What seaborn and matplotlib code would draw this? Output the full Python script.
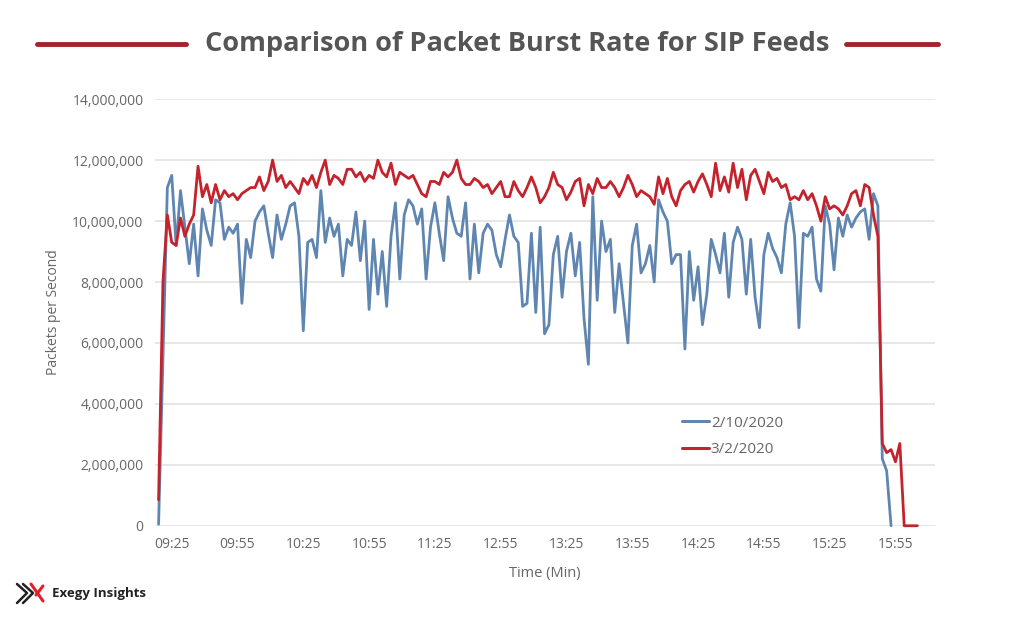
import numpy as np
import pandas as pd
import matplotlib
matplotlib.use("Agg")
import matplotlib.pyplot as plt
from matplotlib.lines import Line2D
from matplotlib.ticker import FuncFormatter
import seaborn as sns


# packets per second, in millions, one sample every 2 minutes
FEB_10 = [
    0.05, 5.5, 11.1, 11.5, 9.2, 11.0, 9.8, 8.6, 9.9, 8.2,
    10.4, 9.7, 9.2, 10.7, 10.6, 9.4, 9.8, 9.6, 9.9, 7.3,
    9.4, 8.8, 10.0, 10.3, 10.5, 9.6, 8.8, 10.2, 9.4, 9.9,
    10.5, 10.6, 9.5, 6.4, 9.3, 9.4, 8.8, 11.0, 9.3, 10.1,
    9.5, 9.9, 8.2, 9.4, 9.2, 10.3, 8.7, 10.0, 7.1, 9.4,
    7.6, 9.0, 7.2, 9.5, 10.6, 8.1, 10.2, 10.7, 10.5, 9.9,
    10.4, 8.1, 9.8, 10.6, 9.6, 8.7, 10.8, 10.1, 9.6, 9.5,
    10.6, 8.1, 9.9, 8.3, 9.6, 9.9, 9.7, 8.9, 8.5, 9.4,
    10.2, 9.5, 9.3, 7.2, 7.3, 9.6, 7.0, 9.8, 6.3, 6.6,
    8.9, 9.5, 7.5, 9.0, 9.6, 8.2, 9.3, 6.8, 5.3, 10.8,
    7.4, 10.0, 9.0, 9.4, 7.0, 8.6, 7.3, 6.0, 9.2, 9.9,
    8.3, 8.6, 9.2, 8.0, 10.7, 10.3, 10.0, 8.6, 8.9, 8.9,
    5.8, 9.0, 7.4, 8.5, 6.6, 7.6, 9.4, 8.9, 8.3, 9.6,
    7.5, 9.3, 9.8, 9.4, 7.6, 9.4, 7.5, 6.5, 8.9, 9.6,
    9.1, 8.8, 8.3, 9.9, 10.6, 9.5, 6.5, 9.6, 9.5, 9.8,
    8.1, 7.7, 10.5, 9.9, 8.4, 10.1, 9.5, 10.2, 9.8, 10.1,
    10.3, 10.4, 9.4, 10.9, 10.5, 2.2, 1.8, 0.0,
]

MAR_2 = [
    0.85, 8.0, 10.2, 9.3, 9.2, 10.1, 9.5, 9.9, 10.2, 11.8,
    10.8, 11.2, 10.6, 11.2, 10.7, 11.0, 10.8, 10.9, 10.7, 10.9,
    11.0, 11.1, 11.1, 11.45, 11.0, 11.3, 12.0, 11.3, 11.5, 11.1,
    11.3, 11.1, 10.9, 11.4, 11.2, 11.5, 11.1, 11.6, 12.0, 11.2,
    11.5, 11.4, 11.2, 11.7, 11.7, 11.45, 11.6, 11.3, 11.5, 11.4,
    12.0, 11.6, 11.45, 11.9, 11.2, 11.6, 11.5, 11.4, 11.5, 11.2,
    10.9, 10.8, 11.3, 11.3, 11.2, 11.6, 11.45, 11.6, 12.0, 11.4,
    11.2, 11.2, 11.4, 11.3, 11.1, 11.2, 10.9, 11.1, 11.3, 10.8,
    10.8, 11.3, 11.0, 10.8, 11.1, 11.45, 11.1, 10.6, 10.8, 11.1,
    11.6, 11.2, 11.1, 10.7, 10.95, 11.3, 11.4, 10.5, 11.2, 10.9,
    11.4, 11.1, 11.1, 11.3, 11.1, 10.8, 11.1, 11.5, 11.2, 10.8,
    11.0, 10.9, 10.8, 10.55, 11.45, 10.9, 11.4, 10.8, 10.5, 11.0,
    11.2, 11.3, 10.95, 11.3, 11.55, 11.2, 10.8, 11.9, 11.0, 11.45,
    10.95, 11.9, 11.1, 11.7, 10.7, 11.5, 11.7, 11.3, 10.9, 11.6,
    11.3, 11.4, 11.1, 11.2, 10.7, 10.8, 10.7, 11.0, 10.7, 10.9,
    10.5, 10.0, 10.8, 10.4, 10.5, 10.4, 10.2, 10.5, 10.9, 11.0,
    10.5, 11.2, 11.1, 10.2, 9.5, 2.7, 2.4, 2.5, 2.1, 2.7,
    0.0, 0.0, 0.0, 0.0,
]

SERIES = ["2/10/2020", "3/2/2020"]
COLORS = ["#5f86b0", "#c4232d"]
TICK_LABELS = ["09:25", "09:55", "10:25", "10:55", "11:25", "12:55",
               "13:25", "13:55", "14:25", "14:55", "15:25", "15:55"]


def main():
    frames = []
    for name, vals in zip(SERIES, [FEB_10, MAR_2]):
        frames.append(pd.DataFrame({
            "sample": np.arange(len(vals)),
            "pps": np.array(vals) * 1e6,
            "date": name,
        }))
    df = pd.concat(frames, ignore_index=True)

    sns.set_style("white")
    plt.rcParams["font.family"] = ["Open Sans", "DejaVu Sans"]

    fig = plt.figure(figsize=(10.24, 6.2), dpi=100)
    ax = fig.add_axes([0.151, 0.152, 0.762, 0.688])

    sns.lineplot(data=df, x="sample", y="pps", hue="date",
                 palette=dict(zip(SERIES, COLORS)), linewidth=2.0,
                 ax=ax, legend=False)
    for line in ax.get_lines():
        line.set_clip_on(False)

    ax.set_ylim(0, 14e6)
    ax.set_xlim(-0.9, 177)
    ax.set_yticks(np.arange(0, 14e6 + 1, 2e6))
    ax.yaxis.set_major_formatter(FuncFormatter(lambda v, p: f"{int(v):,}"))
    ax.set_xticks(3 + 15 * np.arange(len(TICK_LABELS)))
    ax.set_xticklabels(TICK_LABELS)
    ax.tick_params(axis="both", length=0, labelsize=10, colors="#666666", pad=8)
    ax.grid(axis="y", color="#e3e3e3", linewidth=1.2)
    ax.set_axisbelow(True)
    sns.despine(ax=ax, left=True, bottom=True)

    ax.set_xlabel("Time (Min)", fontsize=10.5, color="#666666", labelpad=10)
    ax.set_ylabel("Packets per Second", fontsize=10, color="#666666", labelpad=8)

    handles = [Line2D([0], [0], color=c, linewidth=2.2) for c in COLORS]
    leg = ax.legend(handles, SERIES, loc="upper left", bbox_to_anchor=(0.658, 0.29),
                    frameon=False, fontsize=11, handlelength=1.8, handletextpad=0.1,
                    labelspacing=0.75)
    for t in leg.get_texts():
        t.set_color("#666666")

    # title with red rules either side
    fig.text(0.505, 0.929, "Comparison of Packet Burst Rate for SIP Feeds",
             ha="center", va="center", fontsize=19.5, fontweight="bold", color="#555555")
    rule = "#a3232b"
    fig.add_artist(Line2D([37 / 1024, 186 / 1024], [0.929, 0.929], color=rule, linewidth=3.5))
    fig.add_artist(Line2D([846 / 1024, 938 / 1024], [0.929, 0.929], color=rule, linewidth=3.5))

    # footer logo
    fig.add_artist(Line2D([17 / 1024, 27 / 1024, 17 / 1024], [1 - 584 / 620, 1 - 593 / 620, 1 - 603 / 620],
                          color="#222222", linewidth=1.8))
    fig.add_artist(Line2D([23 / 1024, 33 / 1024, 23 / 1024], [1 - 584 / 620, 1 - 593 / 620, 1 - 603 / 620],
                          color="#222222", linewidth=1.8))
    fig.add_artist(Line2D([31 / 1024, 43 / 1024], [1 - 584 / 620, 1 - 601 / 620], color="#e0202a", linewidth=2.2))
    fig.add_artist(Line2D([36 / 1024, 43 / 1024], [1 - 595 / 620, 1 - 586 / 620], color="#e0202a", linewidth=2.2))
    fig.text(52 / 1024, 1 - 594 / 620, "Exegy Insights", ha="left", va="center",
             fontsize=9.5, fontweight="bold", color="#222222")

    fig.savefig("out.png", dpi=100, facecolor="white")
    plt.close(fig)


if __name__ == "__main__":
    main()
